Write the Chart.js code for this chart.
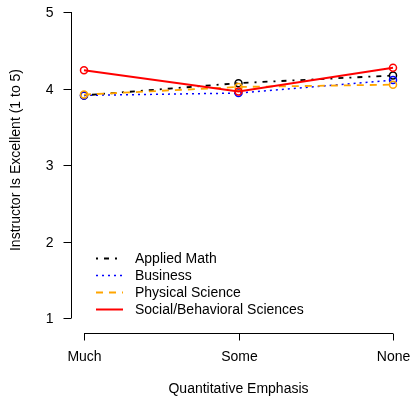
<!DOCTYPE html>
<html>
<head>
<meta charset="utf-8">
<script src="https://cdn.jsdelivr.net/npm/chart.js@4"></script>
<style>
  body { margin: 0; background: #fff; }
  #wrap { width: 410px; height: 396px; }
</style>
</head>
<body>
<div id="wrap"><canvas id="chart" width="410" height="396"></canvas></div>
<script>
// data
const categories = ['Much', 'Some', 'None'];
const appliedMath = [3.91, 4.07, 4.17];
const business = [3.91, 3.94, 4.11];
const physicalScience = [3.92, 4.02, 4.05];
const socialSciences = [4.24, 3.96, 4.27];
const yTicks = [1, 2, 3, 4, 5];
const seriesNames = ['Applied Math', 'Business', 'Physical Science', 'Social/Behavioral Sciences'];

const FONT = '14px "Liberation Sans", Arial, sans-serif';

// R-style detached axes, axis titles and legend
const baseAxes = {
    id: 'baseAxes',
    afterDraw(chart) {
        const ctx = chart.ctx;
        const xs = chart.scales.x;
        const ys = chart.scales.y;
        const area = chart.chartArea;
        ctx.save();
        ctx.strokeStyle = '#000';
        ctx.fillStyle = '#000';
        ctx.lineWidth = 1;
        ctx.setLineDash([]);
        ctx.font = FONT;

        // y axis
        const ax = area.left - 12.5;
        ctx.beginPath();
        ctx.moveTo(ax, ys.getPixelForValue(yTicks[0]));
        ctx.lineTo(ax, ys.getPixelForValue(yTicks[yTicks.length - 1]));
        ctx.stroke();
        ctx.textAlign = 'right';
        ctx.textBaseline = 'middle';
        yTicks.forEach(v => {
            const py = Math.round(ys.getPixelForValue(v)) + 0.5;
            ctx.beginPath();
            ctx.moveTo(ax, py);
            ctx.lineTo(ax - 8, py);
            ctx.stroke();
            ctx.fillText(String(v), ax - 18, py + 1);
        });

        // x axis
        const ay = area.bottom + 15.5;
        ctx.beginPath();
        ctx.moveTo(xs.getPixelForValue(0), ay);
        ctx.lineTo(xs.getPixelForValue(categories.length - 1), ay);
        ctx.stroke();
        ctx.textAlign = 'center';
        ctx.textBaseline = 'middle';
        categories.forEach((c, i) => {
            const px = Math.round(xs.getPixelForValue(i)) + 0.5;
            ctx.beginPath();
            ctx.moveTo(px, ay);
            ctx.lineTo(px, ay + 7);
            ctx.stroke();
            ctx.fillText(c, px, ay + 24);
        });

        // axis titles
        ctx.fillText('Quantitative Emphasis', (xs.getPixelForValue(0) + xs.getPixelForValue(2)) / 2, 389);
        ctx.save();
        ctx.translate(16, 160);
        ctx.rotate(-Math.PI / 2);
        ctx.fillText('Instructor Is Excellent (1 to 5)', 0, 0);
        ctx.restore();

        // legend
        ctx.textAlign = 'left';
        chart.data.datasets.forEach((ds, i) => {
            const ly = Math.round(258 + i * 17) + 0.5;
            ctx.strokeStyle = ds.borderColor;
            ctx.lineWidth = ds.borderWidth;
            ctx.setLineDash(ds.borderDash || []);
            ctx.beginPath();
            ctx.moveTo(96, ly);
            ctx.lineTo(123, ly);
            ctx.stroke();
            ctx.fillStyle = '#000';
            ctx.fillText(seriesNames[i], 135, ly + 1);
        });
        ctx.restore();
    }
};

function series(label, data, color, dash, width, order) {
    return {
        label: label,
        data: data,
        order: order,
        borderColor: color,
        backgroundColor: 'rgba(0,0,0,0)',
        borderWidth: width,
        borderDash: dash,
        pointStyle: 'circle',
        pointRadius: 3.5,
        pointBorderWidth: 1.5,
        pointBorderColor: color,
        pointBackgroundColor: 'rgba(0,0,0,0)',
        tension: 0,
        clip: false
    };
}

new Chart(document.getElementById('chart').getContext('2d'), {
    type: 'line',
    data: {
        labels: categories,
        datasets: [
            series(seriesNames[0], appliedMath, '#000000', [2, 6, 5, 6], 1.8, 3),
            series(seriesNames[1], business, '#0000ff', [2, 4], 1.5, 2),
            series(seriesNames[2], physicalScience, '#ffa500', [7, 6], 1.8, 1),
            series(seriesNames[3], socialSciences, '#ff0000', [], 2, 0)
        ]
    },
    options: {
        responsive: false,
        animation: false,
        layout: { padding: { left: 84, right: 17, top: 12, bottom: 78 } },
        plugins: { legend: { display: false }, tooltip: { enabled: false } },
        scales: {
            x: { type: 'category', offset: false, display: false },
            y: { min: 1, max: 5, display: false }
        }
    },
    plugins: [baseAxes]
});
</script>
</body>
</html>
